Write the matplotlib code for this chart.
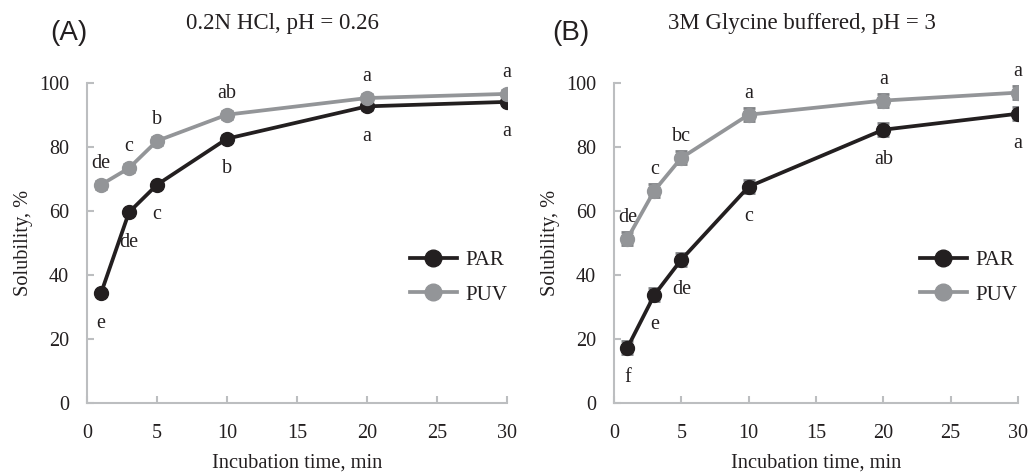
import numpy as np
import matplotlib.pyplot as plt
from matplotlib.lines import Line2D

# incubation times, min
times = [1, 3, 5, 10, 20, 30]

# (A) 0.2N HCl
hcl_par = [34.3, 59.6, 68.2, 82.6, 92.7, 94.1]
hcl_puv = [68.2, 73.4, 81.9, 90.1, 95.3, 96.6]
hcl_par_err = [1.0, 1.0, 1.0, 1.0, 1.0, 1.0]
hcl_puv_err = [1.2, 1.2, 1.2, 1.2, 1.2, 1.2]
hcl_par_letters = ['e', 'de', 'c', 'b', 'a', 'a']
hcl_puv_letters = ['de', 'c', 'b', 'ab', 'a', 'a']

# (B) 3M glycine buffered
gly_par = [17.3, 33.8, 44.8, 67.6, 85.4, 90.4]
gly_puv = [51.4, 66.4, 76.6, 90.1, 94.5, 97.0]
gly_par_err = [2.0, 2.0, 2.0, 2.0, 2.0, 2.0]
gly_puv_err = [2.0, 2.0, 2.0, 2.0, 2.0, 2.0]
gly_par_letters = ['f', 'e', 'de', 'c', 'ab', 'a']
gly_puv_letters = ['de', 'c', 'bc', 'a', 'a', 'a']

series_names = ['PAR', 'PUV']

PAR_COLOR = '#231f20'
PUV_COLOR = '#939598'
ERR_COLOR = '#808285'
SPINE_COLOR = '#bcbec0'
TEXT_COLOR = '#231f20'
SERIF = ['Liberation Serif', 'DejaVu Serif']
SANS = ['Liberation Sans', 'DejaVu Sans']

plt.rcParams['font.family'] = SERIF

fig = plt.figure(figsize=(10.29, 4.73), dpi=100)
W, H = 1029, 473


def px_axes(x0, x1, y_top, y_bot):
    return fig.add_axes([x0 / W, 1 - y_bot / H, (x1 - x0) / W, (y_bot - y_top) / H])


def draw_panel(ax, par, puv, par_err, puv_err, par_lab, puv_lab, leg_x):
    for vals, errs, col in [(par, par_err, PAR_COLOR), (puv, puv_err, PUV_COLOR)]:
        ax.errorbar(times, vals, yerr=errs, color=col, lw=2.7,
                    marker='o', ms=10, mfc=col, mec=col,
                    ecolor=ERR_COLOR, elinewidth=2, capsize=4.3, capthick=2,
                    zorder=3)
    for x, y, s in zip(times, par, par_lab):
        ax.annotate(s, (x, y), xytext=(0, -30), textcoords='offset pixels',
                    ha='center', va='center', fontsize=14.5, color=TEXT_COLOR,
                    annotation_clip=False)
    for x, y, s in zip(times, puv, puv_lab):
        ax.annotate(s, (x, y), xytext=(0, 21.5), textcoords='offset pixels',
                    ha='center', va='center', fontsize=14.5, color=TEXT_COLOR,
                    annotation_clip=False)

    ax.set_xlim(0, 30)
    ax.set_ylim(0, 100)
    ax.set_xticks(np.arange(0, 31, 5))
    ax.set_yticks(np.arange(0, 101, 20))
    for side in ['top', 'right']:
        ax.spines[side].set_visible(False)
    for side in ['left', 'bottom']:
        ax.spines[side].set_color(SPINE_COLOR)
        ax.spines[side].set_linewidth(1.5)
    ax.tick_params(direction='in', length=5, width=1.5, color=SPINE_COLOR,
                   labelsize=14.5, labelcolor=TEXT_COLOR)
    ax.tick_params(axis='x', pad=15)
    ax.tick_params(axis='y', pad=13)
    ax.set_xlabel('Incubation time, min', fontsize=14.7, color=TEXT_COLOR, labelpad=8)
    ax.set_ylabel('Solubility, %', fontsize=14.7, color=TEXT_COLOR, labelpad=4)
    ax.patch.set_alpha(0)

    handles = [Line2D([], [], color=c, lw=2.7, marker='o', ms=12, mfc=c, mec=c)
               for c in (PAR_COLOR, PUV_COLOR)]
    leg = ax.legend(handles, series_names, loc='center left',
                    bbox_to_anchor=(leg_x, 0.392), frameon=False,
                    fontsize=15, handlelength=2.25, handletextpad=0.4,
                    labelspacing=0.72, borderpad=0, borderaxespad=0)
    for t in leg.get_texts():
        t.set_color(TEXT_COLOR)


ax_a = px_axes(87, 507, 83, 403)
draw_panel(ax_a, hcl_par, hcl_puv, hcl_par_err, hcl_puv_err,
           hcl_par_letters, hcl_puv_letters, (410 - 87) / 420)

ax_b = px_axes(614, 1018, 83, 403)
draw_panel(ax_b, gly_par, gly_puv, gly_par_err, gly_puv_err,
           gly_par_letters, gly_puv_letters, (920 - 614) / 404)

fig.text(69 / W, 1 - 33 / H, '(A)', family=SANS,
         fontsize=20, ha='center', va='center', color=TEXT_COLOR)
fig.text(282 / W, 1 - 24 / H, '0.2N HCl, pH = 0.26', fontsize=16.5,
         ha='center', va='center', color=TEXT_COLOR)
fig.text(571 / W, 1 - 33 / H, '(B)', family=SANS,
         fontsize=20, ha='center', va='center', color=TEXT_COLOR)
fig.text(802 / W, 1 - 24 / H, '3M Glycine buffered, pH = 3', fontsize=16.5,
         ha='center', va='center', color=TEXT_COLOR)

fig.savefig('out.png', dpi=100)
